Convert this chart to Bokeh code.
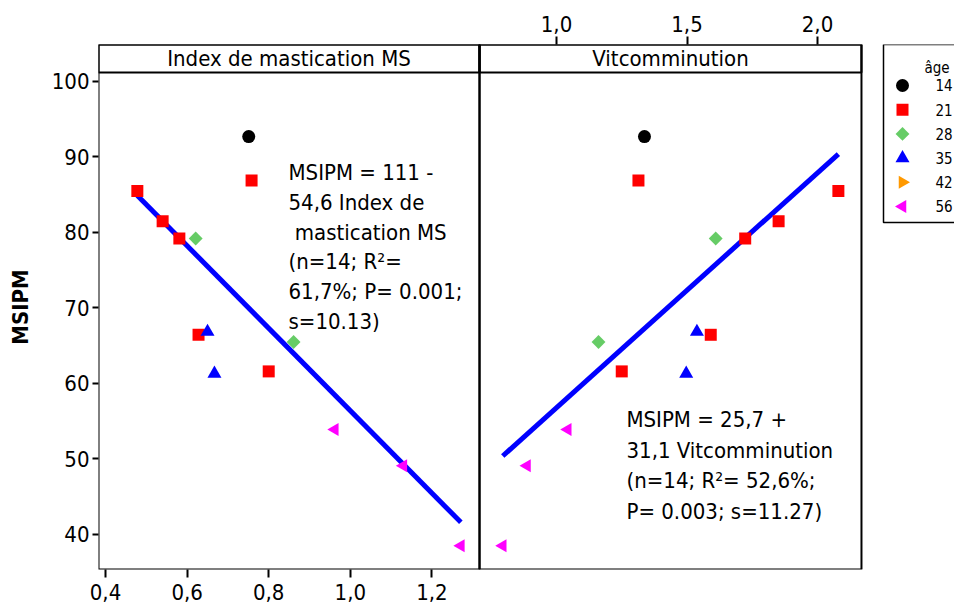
import numpy as np
from bokeh.plotting import figure
from bokeh.models import Range1d, LinearAxis, FixedTicker, CustomJSTickFormatter, Label, BoxAnnotation
from bokeh.embed import file_html
from bokeh.resources import INLINE
from bokeh.core.properties import value

# ---------------- data ----------------
ages = [14, 21, 28, 35, 42, 56]
age_labels = ["14", "21", "28", "35", "42", "56"]
age_colors = ["#000000", "#FF0000", "#66CC66", "#0000FF", "#FF9900", "#FF00FF"]
age_markers = ["circle", "square", "square", "triangle", "triangle", "triangle"]
age_angles = [0.0, 0.0, np.pi / 4, 0.0, -np.pi / 2, np.pi / 2]
age_sizes = [13, 12, 9.8, 14, 13, 13]

point_age = [14, 21, 21, 21, 21, 28, 35, 21, 28, 21, 35, 56, 56, 56]
ms_index = [0.751, 0.758, 0.478, 0.540, 0.581, 0.621, 0.650, 0.628, 0.861, 0.800, 0.667, 0.962, 1.130, 1.271]
vitcomm = [1.337, 1.314, 2.080, 1.851, 1.723, 1.610, 1.538, 1.591, 1.161, 1.250, 1.497, 1.043, 0.887, 0.794]
msipm = [92.7, 86.9, 85.5, 81.5, 79.2, 79.2, 66.85, 66.45, 65.5, 61.6, 61.3, 53.9, 49.1, 38.5]

fit_ms = (111.0, -54.6)   # intercept, slope
fit_v = (25.7, 31.1)

strip_titles = ["Index de mastication MS", "Vitcomminution"]
eq_ms = "MSIPM = 111 -\n54,6 Index de\n\u00a0mastication MS\n(n=14; R\u00b2=\n61,7%; P= 0.001;\ns=10.13)"
eq_v = "MSIPM = 25,7 +\n31,1 Vitcomminution\n(n=14; R\u00b2= 52,6%;\nP= 0.003; s=11.27)"

ms_ticks = [0.4, 0.6, 0.8, 1.0, 1.2]
v_ticks = [1.0, 1.5, 2.0]
y_ticks = [40, 50, 60, 70, 80, 90, 100]
y_label = "MSIPM"
legend_title = "\u00e2ge"

# ---------------- layout constants ----------------
FONT = "DejaVu Sans Condensed"
FS = "22px"
LFS = "15px"
X0, X1 = 0.3828, 2.4809          # left-panel scale across the whole frame
V0, V1 = -0.7548, 2.5249         # right-panel scale across the whole frame
L0, L1 = -785.0, 71.0            # legend scale (pixels from legend box left)
Y0, Y1 = 35.36, 104.9
R0, R1 = 21.0, -0.694            # legend rows
DIV = 1.3167                     # panel divider (left-panel scale)
PR = 2.2529                      # right edge of right panel (left-panel scale)
STRIP = 101.19                   # strip bottom (y scale)

p = figure(width=954, height=610, x_range=Range1d(X0, X1), y_range=Range1d(Y0, Y1),
           output_backend="svg", toolbar_location=None, title_location=None,
           min_border_left=98, min_border_right=0, min_border_top=44, min_border_bottom=41)
p.extra_x_ranges = {"v": Range1d(V0, V1), "lg": Range1d(L0, L1)}
p.extra_y_ranges = {"rows": Range1d(R0, R1)}
p.xgrid.visible = False
p.ygrid.visible = False
p.outline_line_color = None
p.background_fill_color = "white"
p.border_fill_color = "white"


def style_axis(ax, tick_out):
    ax.major_tick_in = 0
    ax.major_tick_out = tick_out
    ax.minor_tick_in = 0
    ax.minor_tick_out = 0
    ax.axis_line_color = None
    ax.major_tick_line_width = 2
    ax.major_tick_line_color = "black"
    ax.major_label_text_font = FONT
    ax.major_label_text_font_size = FS
    ax.major_label_text_color = "black"


comma = "return tick.toFixed(1).replace('.', ',');"

xa = p.xaxis[0]
xa.ticker = FixedTicker(ticks=ms_ticks)
xa.formatter = CustomJSTickFormatter(code=comma)
style_axis(xa, 8)
xa.major_label_standoff = 6

ya = p.yaxis[0]
ya.ticker = FixedTicker(ticks=y_ticks)
style_axis(ya, 6)
ya.major_label_standoff = 3
ya.axis_label = y_label
ya.axis_label_text_font = FONT
ya.axis_label_text_font_style = "bold"
ya.axis_label_text_font_size = FS
ya.axis_label_text_color = "black"
ya.axis_label_standoff = 16

ta = LinearAxis(x_range_name="v", ticker=FixedTicker(ticks=v_ticks),
                formatter=CustomJSTickFormatter(code=comma))
style_axis(ta, 8)
ta.major_label_standoff = 5
p.add_layout(ta, "above")

# panel frames and strips
for left, right in [(X0, DIV), (DIV, PR)]:
    p.add_layout(BoxAnnotation(left=left, right=right, bottom=Y0, top=Y1,
                               fill_color=None, line_color="black", line_alpha=1.0, line_width=2))
    p.add_layout(BoxAnnotation(left=left, right=right, bottom=STRIP, top=Y1,
                               fill_color=None, line_color="black", line_alpha=1.0, line_width=2))

v_div = V0 + (DIV - X0) / (X1 - X0) * (V1 - V0)
v_pr = V0 + (PR - X0) / (X1 - X0) * (V1 - V0)
p.add_layout(Label(x=(X0 + DIV) / 2, y=(STRIP + Y1) / 2, text=strip_titles[0],
                   text_align="center", text_baseline="middle",
                   text_font=FONT, text_font_size=FS, text_color="black"))
p.add_layout(Label(x=(v_div + v_pr) / 2, y=(STRIP + Y1) / 2, text=strip_titles[1], x_range_name="v",
                   text_align="center", text_baseline="middle",
                   text_font=FONT, text_font_size=FS, text_color="black"))

# regression lines
mx = [min(ms_index), max(ms_index)]
p.line(x=mx, y=[fit_ms[0] + fit_ms[1] * v for v in mx], line_color="#0000FF", line_width=5)
vx = [min(vitcomm), max(vitcomm)]
p.line(x=vx, y=[fit_v[0] + fit_v[1] * v for v in vx], line_color="#0000FF", line_width=5,
       x_range_name="v")

# points
for a, col, mk, ang, sz in zip(ages, age_colors, age_markers, age_angles, age_sizes):
    idx = [i for i, g in enumerate(point_age) if g == a]
    if not idx:
        continue
    ys = [msipm[i] for i in idx]
    p.scatter(x=[ms_index[i] for i in idx], y=ys, marker=mk, size=sz, angle=ang,
              fill_color=col, line_color=None)
    p.scatter(x=[vitcomm[i] for i in idx], y=ys, marker=mk, size=sz, angle=ang,
              fill_color=col, line_color=None, x_range_name="v")

# equations
p.add_layout(Label(x=0.8485, y=89.6, text=eq_ms, text_align="left", text_baseline="top",
                   text_font=FONT, text_font_size=FS, text_color="black", text_line_height=1.19))
p.add_layout(Label(x=1.268, y=56.85, text=eq_v, x_range_name="v", text_align="left", text_baseline="top",
                   text_font=FONT, text_font_size=FS, text_color="black", text_line_height=1.22))

# ---------------- legend ----------------
rows = list(range(1, len(ages) + 1))
p.add_layout(BoxAnnotation(left=0, right=120, top=R1, bottom=6.661, x_range_name="lg", y_range_name="rows",
                           fill_color=None, line_color="black", line_alpha=1.0, line_width=1.5))
for r, col, mk, ang, sz in zip(rows, age_colors, age_markers, age_angles, age_sizes):
    p.scatter(x=[19], y=[r], marker=mk, size=sz, angle=ang, fill_color=col, line_color=None,
              x_range_name="lg", y_range_name="rows")
p.text(x=[52] * len(rows), y=rows, text=age_labels, text_baseline="middle", text_align="left",
       text_font=value(FONT), text_font_size=value(LFS), text_color="black",
       x_range_name="lg", y_range_name="rows")
p.text(x=[41], y=[0.285], text=[legend_title], text_baseline="alphabetic", text_align="left",
       text_font=value(FONT), text_font_size=value(LFS), text_color="black",
       x_range_name="lg", y_range_name="rows")

open("out.html", "w").write(file_html(p, INLINE))
